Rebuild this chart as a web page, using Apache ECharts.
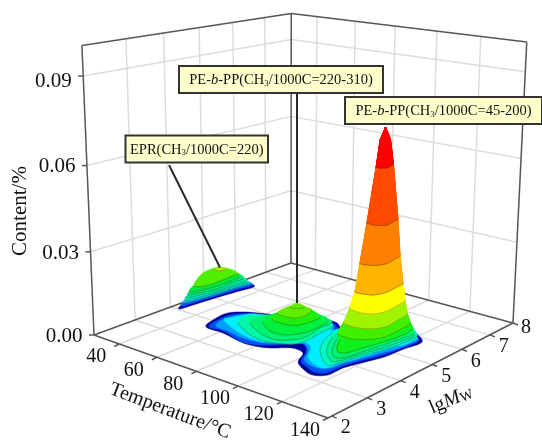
<!DOCTYPE html>
<html><head><meta charset="utf-8"><style>html,body{margin:0;padding:0;background:#fff}#c{width:542px;height:441px}</style>
<script src="https://cdn.jsdelivr.net/npm/echarts@6/dist/echarts.min.js"></script></head><body><div id="c"></div>
<script>
// Axis ticks and labels
const tempTicks=[40,60,80,100,120,140];
const lgmTicks=[2,3,4,5,6,7,8];
const contentTicks=[0,0.03,0.06,0.09];
const contentLabels=['0.00','0.03','0.06','0.09'];
const wallTemps=[40,60,80,100,120];
const wallLgm=[3,4,5,6,7];
const wallContent=[0.03,0.06,0.09];
// Contour data: each contour is a ring of [temperature, lgMw] points at one content level
const shellLevels=[0,0.0002,0.0004,0.0007];
const shellContours=[
 [[52.3,3.65],[49.0,4.03],[48.1,4.52],[53.1,4.82],[60.6,5.00],[67.5,5.16],[76.4,5.40],[83.1,5.55],[87.9,5.54],[92.0,5.43],[94.0,5.89],[101.7,6.54],[110.7,6.41],[117.5,6.13],[123.4,5.90],[124.9,5.68],[123.5,5.28],[122.6,4.71],[119.7,4.19],[117.6,3.78],[117.5,3.34],[113.5,3.16],[108.2,3.24],[101.8,3.46],[97.7,3.86],[91.4,3.92],[86.1,3.68],[81.8,3.56],[74.3,3.50],[61.6,3.63]],
 [[53.5,3.67],[51.1,4.00],[50.7,4.44],[54.6,4.73],[62.1,4.92],[68.9,5.07],[77.8,5.31],[84.2,5.45],[88.6,5.42],[92.2,5.32],[95.0,5.82],[103.1,6.44],[111.1,6.31],[117.8,6.03],[122.8,5.83],[123.5,5.60],[122.6,5.24],[121.5,4.75],[118.6,4.23],[116.8,3.83],[116.4,3.41],[113.0,3.26],[107.6,3.36],[102.4,3.51],[98.2,3.92],[91.9,4.19],[85.1,3.81],[80.8,3.61],[73.5,3.50],[60.8,3.70]],
 [[55.2,3.78],[52.5,4.10],[52.8,4.38],[56.1,4.65],[63.6,4.83],[70.4,4.98],[79.2,5.22],[85.3,5.35],[89.4,5.31],[92.6,5.19],[96.7,5.67],[104.4,6.35],[112.6,6.24],[118.4,5.95],[122.6,5.82],[122.6,5.52],[122.2,5.16],[120.3,4.80],[117.7,4.28],[115.7,3.92],[115.0,3.60],[112.4,3.45],[107.6,3.45],[102.5,3.60],[98.5,3.96],[92.1,4.19],[85.3,3.95],[81.2,3.72],[71.6,3.65],[62.4,3.73]],
 [[53.7,4.10],[54.2,4.31],[57.5,4.75],[64.9,4.79],[71.7,4.90],[80.5,5.14],[86.3,5.25],[90.1,5.22],[93.3,5.06],[97.9,5.79],[105.5,6.26],[112.6,6.19],[119.3,5.86],[122.2,5.82],[122.2,5.39],[120.0,5.12],[117.4,4.31],[115.3,3.90],[114.4,3.54],[111.7,3.45],[106.8,3.55],[102.1,3.73],[98.0,4.08],[92.2,4.23],[87.5,3.95],[81.1,3.74],[74.2,3.70],[64.3,3.83]]
];
const midLevels=[0.0012,0.0018,0.003,0.005,0.0075,0.0093];
const midContours=[
 [[60.3,4.14],[68.8,3.87],[78.1,3.71],[85.5,3.77],[91.8,3.98],[92.9,4.31],[91.8,4.75],[90.9,5.21],[84.4,5.37],[74.6,5.20],[66.4,4.91],[60.6,4.72],[57.9,4.49]],
 [[65.7,4.19],[75.7,3.91],[85.2,3.85],[91.3,4.26],[89.5,4.89],[89.3,5.28],[84.2,5.39],[73.9,5.24],[68.0,4.97],[65.0,4.68],[63.2,4.45]],
 [[71.1,4.27],[79.4,3.99],[86.9,4.04],[90.8,4.50],[89.0,5.18],[81.5,5.33],[71.7,5.28],[68.8,4.92],[68.2,4.59]],
 [[74.7,4.32],[80.5,4.22],[86.5,4.31],[88.4,4.64],[87.9,4.99],[80.7,5.19],[73.4,5.17],[72.2,4.81]],
 [[77.5,4.31],[82.2,4.27],[86.1,4.33],[87.6,4.54],[85.4,4.89],[80.9,4.96],[77.1,4.94],[76.0,4.70]],
 [[80.4,4.53],[83.5,4.55],[84.7,4.72],[79.6,4.79]]
];
const eprLevels=[0,0.0002,0.0005,0.0008,0.0012,0.0019,0.003,0.0045,0.008];
const eprContours=[
 [[30.2,4.03],[31.4,4.53],[32.3,5.06],[33.6,5.58],[34.5,6.14],[24.7,6.05],[20.4,5.33],[26.2,4.42]],
 [[28.8,4.17],[30.1,4.63],[31.1,5.13],[32.0,5.64],[33.1,6.16],[24.3,6.08],[20.0,5.36],[25.3,4.50]],
 [[27.5,4.29],[29.4,4.70],[30.4,5.16],[31.1,5.66],[31.8,6.17],[24.0,6.09],[19.8,5.37],[24.5,4.57]],
 [[26.5,4.39],[28.4,4.76],[29.8,5.20],[30.1,5.68],[30.9,6.15],[23.8,6.10],[18.7,5.43],[23.8,4.64]],
 [[25.6,4.47],[27.5,4.80],[29.4,5.22],[29.4,5.69],[29.8,6.15],[22.9,6.15],[17.8,5.48],[23.3,4.69]],
 [[25.2,4.55],[27.2,4.85],[29.2,5.23],[28.4,5.72],[28.2,6.15],[20.2,6.24],[16.7,5.53],[22.0,4.82]],
 [[25.4,4.59],[27.8,4.85],[29.0,5.24],[28.8,5.67],[27.9,6.00],[19.9,6.16],[16.3,5.63],[21.0,4.97]],
 [[25.2,4.75],[28.6,4.90],[29.0,5.34],[28.4,5.85],[28.8,5.95],[23.3,6.07],[16.4,6.03],[15.4,5.80],[16.5,5.49],[20.0,5.12]],
 [[24.8,5.39],[28.0,5.40],[28.1,5.58],[24.9,5.57]]
];
const mainLevels=[0.0012,0.0016,0.0022,0.003,0.004,0.008,0.013,0.020,0.029,0.042,0.062,0.070,0.0745];
const mainContours=[
 [[94.8,4.96],[101.4,4.14],[113.5,3.57],[115.6,3.82],[117.6,4.30],[119.9,4.83],[121.7,5.38],[121.5,5.86],[110.0,6.29],[99.3,6.19],[96.5,5.39]],
 [[98.8,4.70],[105.2,4.10],[112.9,3.73],[115.6,3.91],[117.3,4.38],[119.4,4.86],[120.9,5.41],[121.0,5.83],[110.0,6.29],[99.4,6.19],[96.5,5.39]],
 [[102.2,4.60],[108.3,4.06],[113.5,3.84],[116.0,4.01],[117.1,4.39],[118.6,4.85],[120.1,5.40],[120.5,5.83],[109.8,6.30],[99.1,6.20],[96.9,5.36]],
 [[105.1,4.51],[110.4,4.07],[113.8,4.02],[115.4,4.19],[116.4,4.50],[118.1,4.88],[119.6,5.36],[118.8,5.89],[109.5,6.28],[98.5,6.25],[96.9,5.42]],
 [[101.9,4.65],[106.4,4.58],[109.8,4.59],[113.5,4.72],[116.5,4.93],[117.8,5.23],[117.3,5.63],[116.1,6.01],[106.8,6.41],[96.9,6.36],[95.5,5.45]],
 [[103.6,4.72],[107.8,4.63],[111.3,4.65],[114.5,4.72],[117.2,4.87],[118.5,5.11],[117.6,5.49],[116.4,5.88],[107.9,6.25],[99.3,6.18],[98.4,5.45]],
 [[104.9,4.82],[108.6,4.73],[111.8,4.73],[114.7,4.79],[116.6,4.91],[117.5,5.13],[117.1,5.48],[115.6,5.86],[107.5,6.20],[99.5,6.16],[99.3,5.51]],
 [[108.3,4.74],[111.4,4.69],[114.0,4.73],[116.0,4.78],[117.3,4.91],[117.9,5.13],[117.4,5.45],[116.4,5.72],[109.7,5.97],[102.9,5.91],[102.6,5.41]],
 [[107.6,4.93],[110.1,4.88],[111.9,4.92],[113.6,4.96],[114.9,5.06],[115.8,5.22],[114.9,5.54],[113.5,5.81],[108.2,5.95],[103.4,5.86],[103.4,5.44]],
 [[107.3,5.15],[109.3,5.11],[111.2,5.10],[112.7,5.13],[113.8,5.18],[114.8,5.27],[114.1,5.50],[112.8,5.76],[109.9,5.81],[106.3,5.73],[105.2,5.46]],
 [[111.6,5.11],[112.8,5.07],[113.7,5.05],[114.2,5.08],[115.0,5.12],[115.6,5.14],[115.3,5.28],[114.1,5.48],[112.1,5.54],[110.0,5.50],[109.2,5.36]],
 [[110.0,5.33],[111.2,5.27],[112.0,5.25],[112.7,5.23],[113.3,5.26],[113.8,5.28],[113.4,5.37],[112.4,5.49],[110.8,5.55],[109.5,5.53],[109.0,5.45]],
 [[111.9,5.36]]
];
// Styling, kept apart from the values
const shellColors=['#00009c','#0050f0','#00a0ff','#00eeff'];
const midColors=['#00f8a8','#00f070','#00f040','#20ee10','#60ee00','#60ee00'];
const eprColors=['#0000b0','#0060f0','#00c8f0','#00e8c8','#00e8a0','#00e870','#00e840','#50ee00','#b0f000'];
const mainColors=['#00f8c8','#00f098','#00f070','#10f020','#40f000','#a0f400','#ffff00','#ffb400','#ff8000','#ff4a00','#ff0000','#ff0000','#ff0000'];
const midFront=[8,6,5,5,5,3];
const eprFront=[0,0,5,5,5,5,5,5,3];
const mainFront=[8,8,8,8,8,8,8,8,8,8,8,0,0];
const tMin=26,tMax=140,mMin=1.9,mMax=7.87,zMax=0.1;
const cam={a:189.31,b:245.77,c:94,d:26.05,e:-27.92,f:335,g:-0.13625,h:0.1676,p0:-16.9,p1:-292.2,p2:-0.059};
function proj(T,M,z){const u=(T-tMin)/(tMax-tMin),v=(M-mMin)/(mMax-mMin),w=z/zMax;const d=cam.g*u+cam.h*v+1+w*cam.p2;
 return [(cam.a*u+cam.b*v+cam.c+w*cam.p0)/d,(cam.d*u+cam.e*v+cam.f+w*cam.p1)/d];}
function dense(p,m){const n=p.length,o=[];if(n===1)return [p[0]];for(let i=0;i<n;i++){const a=p[(i+n-1)%n],b=p[i],c=p[(i+1)%n],d=p[(i+2)%n];
 for(let j=0;j<m;j++){const t=j/m,t2=t*t,t3=t2*t;const f=k=>.5*(2*b[k]+(c[k]-a[k])*t+(2*a[k]-5*b[k]+4*c[k]-d[k])*t2+(3*b[k]-a[k]-3*c[k]+d[k])*t3);o.push([f(0),f(1)]);}}return o;}
const LINE='rgba(45,55,0,0.38)',GRID='#dcdcdc',AXIS='#565656';
function stack(api,levels,contours,colors,fronts,quads,out){const M=5;
 const D=contours.map((r,k)=>dense(r.map(p=>proj(p[0],p[1],levels[k])),M).map(p=>api.coord(p)));
 contours.forEach((r,k)=>{const d=D[k],col=colors[k];
  if(d.length<3)return;
  out.push({type:'polygon',shape:{points:d},style:{fill:col,stroke:col,lineWidth:.5}});
  if(quads&&k+1<contours.length){let e=D[k+1];const n=d.length;if(e.length!==n)e=new Array(n).fill(e[0]);
   for(let i=0;i<n;i++){const j=(i+1)%n;out.push({type:'polygon',shape:{points:[d[i],d[j],e[j],e[i]]},style:{fill:col,stroke:col,lineWidth:.7}});}}
  if(fronts&&fronts[k]>0){out.push({type:'polyline',shape:{points:d.slice(0,(fronts[k]-1)*M+1)},style:{fill:'none',stroke:LINE,lineWidth:.9}});}
 });}
function line(api,out,p,q,col,w){const a=api.coord(p),b=api.coord(q);out.push({type:'line',shape:{x1:a[0],y1:a[1],x2:b[0],y2:b[1]},style:{stroke:col,lineWidth:w}});}
function txt(api,out,s,p,size,extra){const c=api.coord(p);out.push(Object.assign({type:'text',x:c[0],y:c[1],style:Object.assign({text:s,fontFamily:'Liberation Serif',fontSize:size,fill:'#111',align:'center',verticalAlign:'middle'},extra&&extra.style||{})},extra&&extra.el||{}));}
function renderFrame(params,api){const o=[];
 wallTemps.forEach(T=>{line(api,o,proj(T,mMax,0),proj(T,mMax,zMax),GRID,1.5);line(api,o,proj(T,mMin,0),proj(T,mMax,0),GRID,1.5);});
 wallLgm.forEach(M=>{line(api,o,proj(tMin,M,0),proj(tMin,M,zMax),GRID,1.5);line(api,o,proj(tMin,M,0),proj(tMax,M,0),GRID,1.5);});
 wallContent.forEach(z=>{line(api,o,proj(tMin,mMin,z),proj(tMin,mMax,z),GRID,1.5);line(api,o,proj(tMin,mMax,z),proj(tMax,mMax,z),GRID,1.5);});
 const edges=[[[tMin,mMin,0],[tMax,mMin,0]],[[tMax,mMin,0],[tMax,mMax,0]],[[tMax,mMax,0],[tMin,mMax,0]],[[tMin,mMax,0],[tMin,mMin,0]],[[tMin,mMin,0],[tMin,mMin,zMax]],[[tMin,mMax,0],[tMin,mMax,zMax]],[[tMax,mMax,0],[tMax,mMax,zMax]],[[tMin,mMin,zMax],[tMin,mMax,zMax]],[[tMin,mMax,zMax],[tMax,mMax,zMax]]];
 edges.forEach(e=>line(api,o,proj(...e[0]),proj(...e[1]),AXIS,1.5));
 const zNudge=[1,2,1,5];
 contentTicks.forEach((z,i)=>{const p=proj(tMin,mMin,z);line(api,o,p,[p[0]-5,p[1]],AXIS,1.5);txt(api,o,contentLabels[i],[p[0]-11.5,p[1]+zNudge[i]],21,{style:{align:'right'}});});
 tempTicks.forEach(T=>{const p=proj(T,mMin,0);line(api,o,p,[p[0]-5,p[1]+2.5],AXIS,1.5);txt(api,o,String(T),[p[0]-23,p[1]+13],20);});
 lgmTicks.forEach(M=>{const p=proj(tMax,Math.max(mMin,Math.min(mMax,M)),0);line(api,o,p,[p[0]+5,p[1]+2],AXIS,1.5);txt(api,o,String(M),M===8?[p[0]+13,p[1]+5]:[p[0]+14,p[1]+12],20);});
 txt(api,o,'Content/%',[20,211],21,{el:{rotation:Math.PI/2}});
 txt(api,o,'Temperature/°C',[170,411],20,{el:{rotation:-0.36}});
 txt(api,o,'{a|lg}{b|M}{c|W}',[451,400],20,{el:{rotation:0.41},style:{rich:{a:{fontFamily:'Liberation Serif',fontSize:20,fill:'#111'},b:{fontFamily:'Liberation Serif',fontSize:20,fontStyle:'italic',fill:'#111'},c:{fontFamily:'Liberation Serif',fontSize:14,fill:'#111',verticalAlign:'bottom'}}}});
 return {type:'group',children:o};}
function renderSurf(params,api){const o=[];
 stack(api,eprLevels,eprContours,eprColors,eprFront,false,o);
 stack(api,shellLevels,shellContours,shellColors,null,false,o);
 stack(api,midLevels,midContours,midColors,midFront,false,o);
 stack(api,mainLevels,mainContours,mainColors,mainFront,true,o);
 return {type:'group',children:o};}
const boxes=[
 {x:179,y:66,w:204,h:27,t:'{a|PE-}{i|b}{a|-PP(CH}{s|3}{a|/1000C=220-310)}'},
 {x:345,y:97,w:197,h:27,t:'{a|PE-}{i|b}{a|-PP(CH}{s|3}{a|/1000C=45-200)}'},
 {x:125.5,y:135.5,w:142.5,h:27,t:'{a|EPR(CH}{s|3}{a|/1000C=220)}'}];
function renderNotes(params,api){const o=[];
 const midTop=midContours[5][3],eprTop=eprContours[8][3];
 line(api,o,[297,93],proj(midTop[0],midTop[1],midLevels[5]),'#2a2a2a',2);
 line(api,o,[169,165],proj(eprTop[0],eprTop[1],eprLevels[8]),'#2a2a2a',2);
 const rich={a:{fontFamily:'Liberation Serif',fontSize:14.5,fill:'#111'},i:{fontFamily:'Liberation Serif',fontSize:14.5,fontStyle:'italic',fill:'#111'},s:{fontFamily:'Liberation Serif',fontSize:9,fill:'#111',verticalAlign:'bottom'}};
 boxes.forEach(b=>{const c=api.coord([b.x,b.y]);o.push({type:'rect',shape:{x:c[0],y:c[1],width:b.w,height:b.h},style:{fill:'#ffffcc',stroke:'#333',lineWidth:2}});
  o.push({type:'text',x:c[0]+b.w/2,y:c[1]+b.h/2+1,style:{text:b.t,rich,align:'center',verticalAlign:'middle'}});});
 return {type:'group',children:o};}
const chart=echarts.init(document.getElementById('c'),null,{renderer:'canvas'});
const one=[[0,0]];
chart.setOption({animation:false,backgroundColor:'#fff',
 grid:{left:0,right:0,top:0,bottom:0},
 xAxis:{type:'value',min:0,max:542,show:false},
 yAxis:{type:'value',min:0,max:441,inverse:true,show:false},
 series:[{type:'custom',coordinateSystem:'cartesian2d',data:one,clip:false,z:1,renderItem:renderFrame,silent:true},
 {type:'custom',coordinateSystem:'cartesian2d',data:one,clip:false,z:2,renderItem:renderSurf,silent:true},
 {type:'custom',coordinateSystem:'cartesian2d',data:one,clip:false,z:3,renderItem:renderNotes,silent:true}]});
</script></body></html>
